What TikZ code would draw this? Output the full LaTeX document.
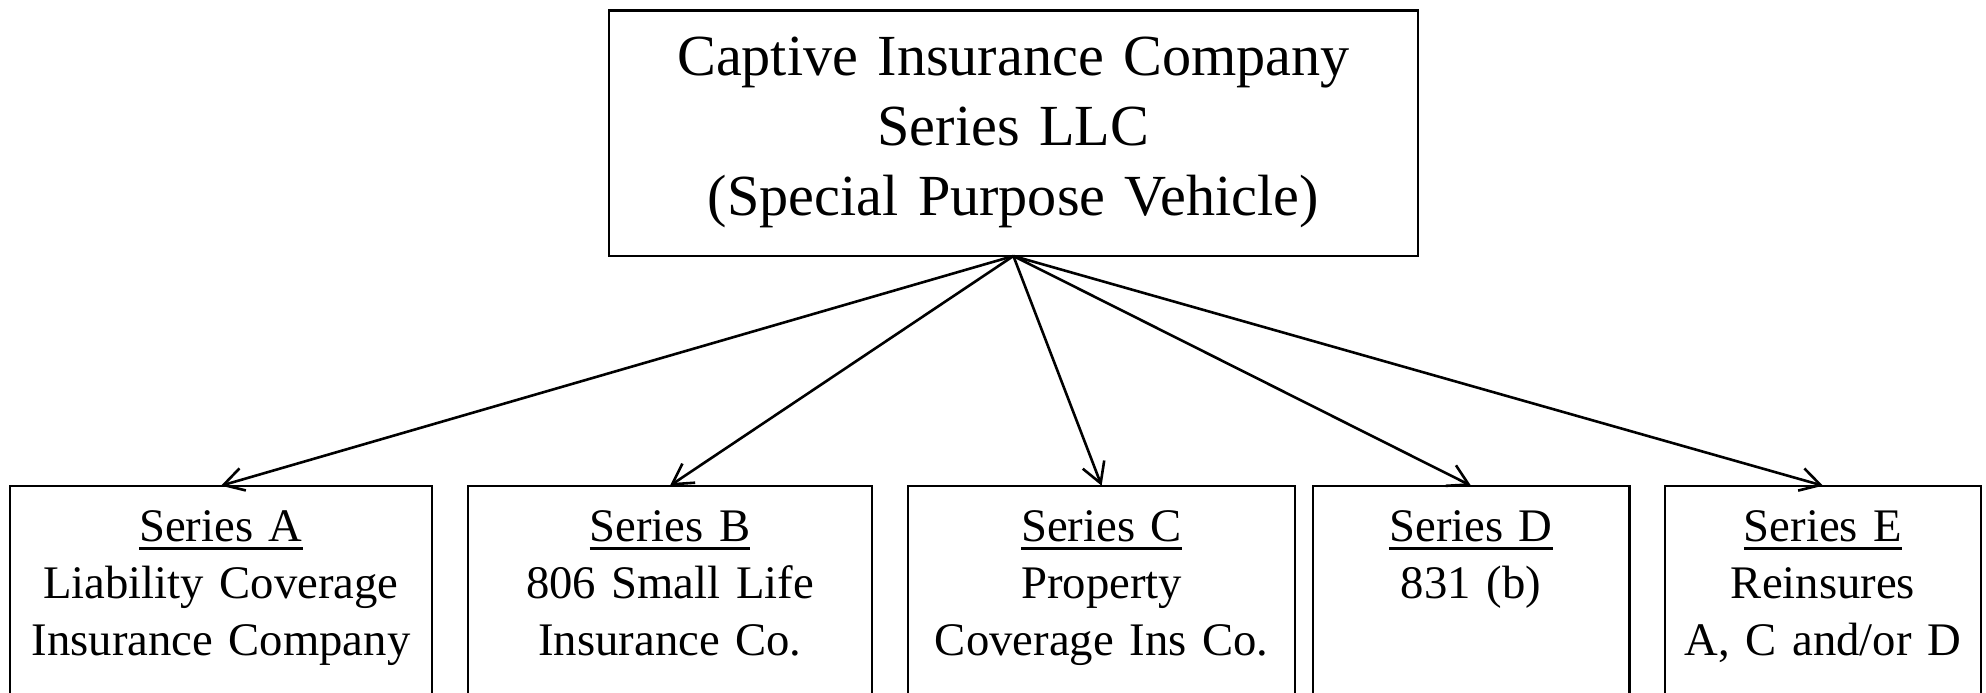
\documentclass[tikz,border=0pt]{standalone}
\usepackage{fontspec}
\setmainfont{Liberation Serif}
\usetikzlibrary{arrows.meta}
\newcommand{\serul}[1]{\vtop{\hbox{#1}\kern5.6pt\hrule height 3.4pt}}
\begin{document}
\begin{tikzpicture}[x=1pt,y=-1pt,
  boxstyle/.style={draw, line width=2.4pt, rectangle, anchor=north, inner sep=0pt, outer sep=0pt, align=center},
  topbox/.style={boxstyle, font=\fontsize{58.2}{69.7}\selectfont, text height=65.3pt, text depth=180pt},
  subbox/.style={boxstyle, font=\fontsize{46.7}{57}\selectfont, text height=55.3pt, text depth=260pt},
  conn/.style={line width=2.6pt, -{Straight Barb[length=20pt,width=23pt,line width=2.6pt]}}
]
\useasboundingbox (0,0) rectangle (1986,693);
\clip (0,0) rectangle (1986,693);
\node[topbox, text width=809.3pt] (T) at (1013.4,10.7) {Captive Insurance Company\\Series LLC\\(Special Purpose Vehicle)};
\node[subbox, text width=422pt] (A) at (221,485.7) {\serul{Series A}\\Liability Coverage\\Insurance Company};
\node[subbox, text width=404pt] (B) at (670,485.7) {\serul{Series B}\\806 Small Life\\Insurance Co.};
\node[subbox, text width=386.7pt] (C) at (1101.6,485.7) {\serul{Series C}\\Property\\Coverage Ins Co.};
\node[subbox, text width=316.6pt] (D) at (1471,485.7) {\serul{Series D}\\831 (b)};
\node[subbox, text width=316pt] (E) at (1823,485.7) {\serul{Series E}\\Reinsures\\A, C and/or D};
\foreach \n in {A,B,C,D,E} {
  \draw[conn] (T.south) -- (\n.north);
}
\end{tikzpicture}
\end{document}
